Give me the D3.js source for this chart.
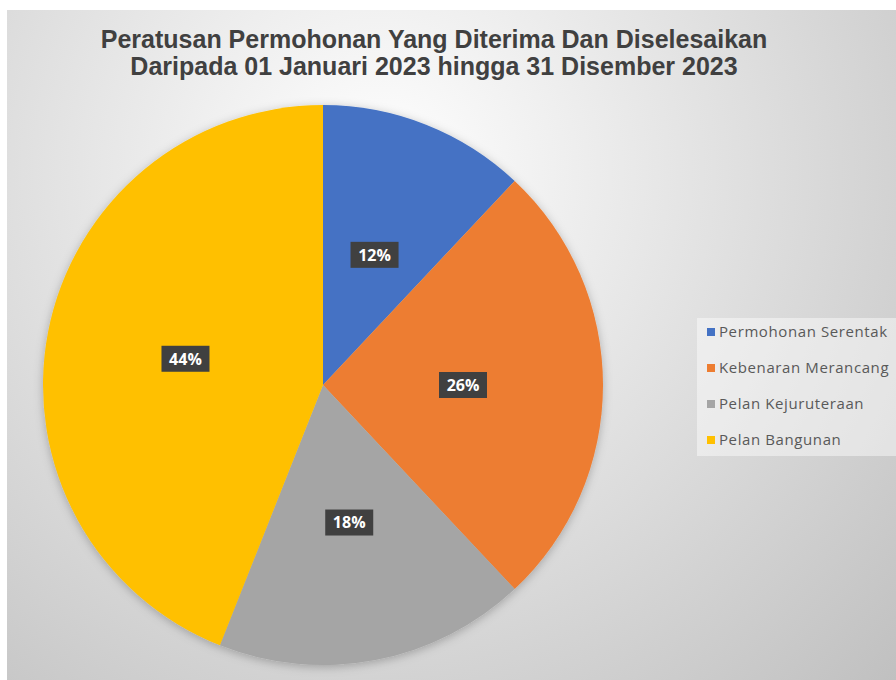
<!DOCTYPE html>
<html>
<head>
<meta charset="utf-8">
<script src="https://cdn.jsdelivr.net/npm/d3@7"></script>
<style>
  body { margin: 0; background: #fff; }
</style>
</head>
<body>
<div id="pie-chart"></div>
<script>
const categories = ["Permohonan Serentak", "Kebenaran Merancang", "Pelan Kejuruteraan", "Pelan Bangunan"]
const percentages = [12, 26, 18, 44]
const colors = ["#4472C4", "#ED7D31", "#A5A5A5", "#FFC000"]
const titleLines = ["Peratusan Permohonan Yang Diterima Dan Diselesaikan",
                    "Daripada 01 Januari 2023 hingga 31 Disember 2023"]

const width = 896, height = 680
const cx = 323, cy = 385, radius = 280

const svg = d3.select("#pie-chart")
    .append("svg")
    .attr("width", width)
    .attr("height", height)

const defs = svg.append("defs")
const grad = defs.append("radialGradient")
    .attr("id", "bg-grad")
    .attr("gradientUnits", "userSpaceOnUse")
    .attr("cx", 380).attr("cy", 170).attr("r", 760)
grad.append("stop").attr("offset", "0%").attr("stop-color", "#ffffff")
grad.append("stop").attr("offset", "100%").attr("stop-color", "#bdbdbd")

const shadow = defs.append("filter").attr("id", "pie-shadow")
    .attr("x", "-10%").attr("y", "-10%").attr("width", "120%").attr("height", "120%")
shadow.append("feDropShadow")
    .attr("dx", 0).attr("dy", 2).attr("stdDeviation", 5)
    .attr("flood-color", "#000").attr("flood-opacity", 0.25)

// chart area background
svg.append("rect")
    .attr("x", 7).attr("y", 10)
    .attr("width", width - 7).attr("height", height - 10)
    .attr("fill", "url(#bg-grad)")

// title
svg.append("g")
    .selectAll("text")
    .data(titleLines)
    .enter().append("text")
    .attr("x", 434)
    .attr("y", (d, i) => 48 + i * 27)
    .attr("text-anchor", "middle")
    .style("font-family", "'Liberation Sans', Arial, sans-serif")
    .style("font-weight", "bold")
    .style("font-size", "25px")
    .style("fill", "#404040")
    .text(d => d)

// pie
const data = categories.map((c, i) => ({name: c, value: percentages[i]}))
const pie = d3.pie().value(d => d.value).sort(null)
const arc = d3.arc().innerRadius(0).outerRadius(radius)
const labelArc = d3.arc().innerRadius(radius * 0.5).outerRadius(radius * 0.5)

const color = d3.scaleOrdinal().domain(categories).range(colors)

const g = svg.append("g")
    .attr("transform", `translate(${cx}, ${cy})`)

g.append("g")
    .attr("filter", "url(#pie-shadow)")
    .selectAll("path")
    .data(pie(data))
    .enter().append("path")
    .attr("d", arc)
    .attr("fill", d => color(d.data.name))

// data labels with dark boxes
const labels = g.append("g")
    .selectAll("g")
    .data(pie(data))
    .enter().append("g")
    .attr("transform", d => `translate(${labelArc.centroid(d)})`)

labels.append("rect")
    .attr("x", -24).attr("y", -13)
    .attr("width", 48).attr("height", 26)
    .attr("fill", "#404040")

labels.append("text")
    .attr("text-anchor", "middle")
    .attr("dy", "0.36em")
    .style("font-family", "'Open Sans', 'DejaVu Sans', sans-serif")
    .style("font-weight", "bold")
    .style("font-size", "16px")
    .style("fill", "#fff")
    .text(d => d.data.value + "%")

// legend
const legend = svg.append("g")
legend.append("rect")
    .attr("x", 697).attr("y", 318)
    .attr("width", 210).attr("height", 138)
    .attr("fill", "#ffffff").attr("fill-opacity", 0.45)

const items = legend.selectAll("g.item")
    .data(categories)
    .enter().append("g")
    .attr("class", "item")
    .attr("transform", (d, i) => `translate(707, ${332 + i * 36})`)

items.append("rect")
    .attr("x", 0).attr("y", -4)
    .attr("width", 8).attr("height", 8)
    .attr("fill", d => color(d))

items.append("text")
    .attr("x", 12)
    .attr("dy", "0.35em")
    .style("font-family", "'Open Sans', sans-serif")
    .style("font-size", "15px")
    .style("letter-spacing", "0.6px")
    .style("fill", "#595959")
    .text(d => d)
</script>
</body>
</html>
